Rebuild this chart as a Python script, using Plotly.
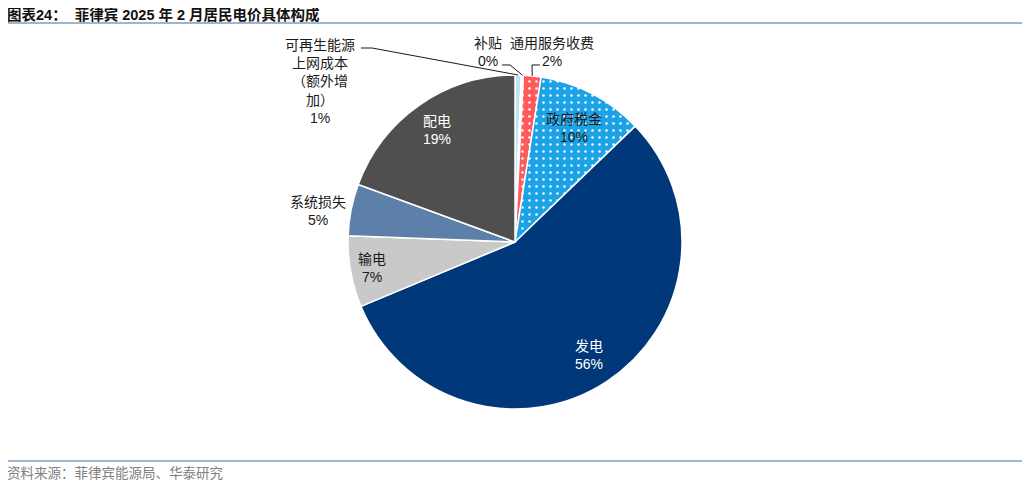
import math
import plotly.graph_objects as go

# slices in clockwise order from 12 o'clock
labels = ["可再生能源上网成本（额外增加）", "补贴", "通用服务收费", "政府税金",
          "发电", "输电", "系统损失", "配电"]
values = [0.6, 0.2, 1.7, 10.3, 55.9, 6.9, 5.0, 19.4]

colors = ["#bfe3f1", "#f4f4f4", "#ff5b5b", "#1ca2e6",
          "#00387a", "#c9c9c9", "#5d80ab", "#4f4f4f"]
shapes_pat = ["", "", ".", ".", "", "", "", ""]

# the page body has an 8px margin, so the figure is drawn 8px in from the corner
OFF = 8
W, H = 1030 - OFF, 486 - OFF
CX, CY, R = 515, 242, 167

FONT = "Liberation Sans, Noto Sans CJK SC, sans-serif"


def px(x, y):
    # reference pixel -> paper coordinates
    return (x - OFF) / W, 1 - (y - OFF) / H


fig = go.Figure(go.Pie(
    labels=labels,
    values=values,
    sort=False,
    direction="clockwise",
    rotation=0,
    textinfo="none",
    hoverinfo="label+percent",
    marker=dict(
        colors=colors,
        line=dict(color="white", width=1.5),
        pattern=dict(shape=shapes_pat, fgcolor="white", bgcolor=colors,
                     size=7, solidity=0.1, fillmode="replace"),
    ),
    domain=dict(x=[px(CX - R, 0)[0], px(CX + R, 0)[0]],
                y=[px(0, CY + R)[1], px(0, CY - R)[1]]),
    showlegend=False,
))

total = sum(values)
cum = 0
mids = []
for v in values:
    mids.append((cum + v / 2) / total)
    cum += v


def pie_point(frac, rf):
    a = 2 * math.pi * frac
    return CX + math.sin(a) * R * rf, CY - math.cos(a) * R * rf


def pct(v):
    return "%d%%" % round(100 * v / total)


def label(x, y, txt, col="#1a1a1a", size=14):
    ax, ay = px(x, y)
    return dict(x=ax, y=ay, xref="paper", yref="paper", xanchor="center",
                yanchor="middle", text=txt, showarrow=False, align="center",
                font=dict(size=size, color=col, family=FONT))


annotations = []

# labels placed inside the pie at each slice's middle angle
inside = {"政府税金": (0.77, "#1a1a1a"), "发电": (0.81, "white"),
          "输电": (0.87, "#1a1a1a"), "配电": (0.82, "white")}
for i, name in enumerate(labels):
    if name in inside:
        rf, col = inside[name]
        x, y = pie_point(mids[i], rf)
        annotations.append(label(x, y, name + "<br>" + pct(values[i]), col))

# labels outside the pie
annotations.append(label(320, 81, "可再生能源<br>上网成本<br>（额外增<br>加）<br>" + pct(values[0])))
annotations.append(label(488, 52, "补贴<br>" + pct(values[1])))
annotations.append(label(552, 52, "通用服务收费<br>" + pct(values[2])))
annotations.append(label(318, 211, "系统损失<br>" + pct(values[6])))

# title and source
tx, ty = px(5, 15)
annotations.append(dict(x=tx, y=ty, xref="paper", yref="paper",
                        xanchor="left", yanchor="middle", showarrow=False,
                        text="<b>图表24：  菲律宾 2025 年 2 月居民电价具体构成</b>",
                        font=dict(size=14.5, color="#111111", family=FONT)))
sx, sy = px(5, 473)
annotations.append(dict(x=sx, y=sy, xref="paper", yref="paper",
                        xanchor="left", yanchor="middle", showarrow=False,
                        text="资料来源：菲律宾能源局、华泰研究",
                        font=dict(size=13.5, color="#808080", family=FONT)))

# leader lines, ending on the edge of each small slice
shapes = []
lead = [
    (0, [(361, 48), (372, 48)]),
    (1, [(502, 65), (510, 65)]),
    (2, [(540, 65), (532, 65)]),
]
for i, pts in lead:
    ex, ey = pie_point(mids[i], 1.0)
    path_pts = pts + [(ex, ey)]
    d = "M " + " L ".join("%.4f,%.4f" % px(x, y) for x, y in path_pts)
    shapes.append(dict(type="path", path=d, xref="paper", yref="paper",
                       line=dict(color="#1a1a1a", width=1)))

for y in (23, 461):
    x0, yy = px(5, y)
    x1, _ = px(1025, y)
    shapes.append(dict(type="line", xref="paper", yref="paper",
                       x0=x0, x1=x1, y0=yy, y1=yy,
                       line=dict(color="#7f9bbf", width=1.5)))

fig.update_layout(
    width=W, height=H,
    margin=dict(l=0, r=0, t=0, b=0),
    paper_bgcolor="white",
    plot_bgcolor="white",
    annotations=annotations,
    shapes=shapes,
    font=dict(family=FONT),
)

fig.write_html("out.html")
